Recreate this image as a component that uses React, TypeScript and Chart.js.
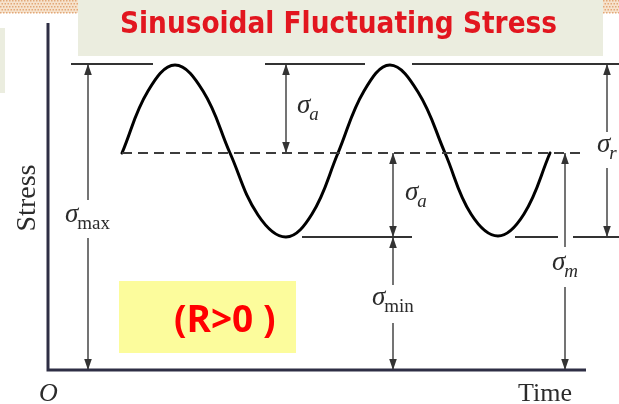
import React, { useEffect, useRef } from 'react';
import { Chart, registerables } from 'chart.js';
Chart.register(...registerables);

// Stress levels (data units)
const S_MAX = 3.06;
const S_MEAN = 2.17;
const S_MIN = 1.33;

// Sinusoidal stress history
const SINE_TIME = [0.74, 1.0, 1.27, 1.55, 1.82, 2.1, 2.38, 2.64, 2.9, 3.16, 3.42, 3.7, 3.97, 4.23, 4.5, 4.76, 5.02];
const SINE_STRESS = [2.17, 2.79, 3.05, 2.79, 2.17, 1.55, 1.33, 1.56, 2.17, 2.79, 3.05, 2.78, 2.17, 1.56, 1.34, 1.56, 2.17];

// Axes extents
const AXIS_TOP = 3.47;
const AXIS_END = 5.38;

// Reference lines (time extents of each segment)
const TOP_LINE_SEGMENTS = [[0.23, 1.05], [2.17, 3.17], [3.64, 5.71]];
const BOTTOM_LINE_SEGMENTS = [[2.54, 3.64], [4.67, 5.1], [5.25, 5.71]];
const MEAN_LINE = [0.74, 5.32];

// Dimension arrows
const ARROW_TIME = [0.4, 2.38, 3.45, 3.45, 5.17, 5.59];
const ARROW_FROM = [S_MAX, S_MAX, S_MEAN, S_MIN, S_MEAN, S_MAX];
const ARROW_TO = [0, S_MEAN, S_MIN, 0, 0, S_MIN];
const ARROW_GAP_HI = [1.7, null, null, 0.85, 1.23, 2.38];
const ARROW_GAP_LO = [1.32, null, null, 0.47, 0.83, 2.02];

// Labels (σ with subscript)
const LABEL_SUB = ['max', 'a', 'a', 'min', 'm', 'r'];
const LABEL_SUB_ITALIC = [false, true, true, false, true, true];
const LABEL_TIME = [0.17, 2.49, 3.57, 3.24, 5.04, 5.49];
const LABEL_STRESS = [1.48, 2.57, 1.7, 0.65, 1.0, 2.18];

const TITLE = 'Sinusoidal Fluctuating Stress';
const NOTE = '(R>0 )';
const Y_TITLE = 'Stress';
const X_TITLE = 'Time';
const ORIGIN = 'O';

function segDatasets(segments: number[][], y: number, style: any) {
  return segments.map(([a, b]) => ({
    data: [{ x: a, y }, { x: b, y }],
    ...style,
  }));
}

function vSeg(t: number, a: number, b: number, style: any) {
  return { data: [{ x: t, y: a }, { x: t, y: b }], ...style };
}

const annotPlugin = {
  id: 'annot',
  beforeDraw(chart: any) {
    const ctx = chart.ctx;
    ctx.save();
    ctx.fillStyle = '#ffffff';
    ctx.fillRect(0, 0, chart.width, chart.height);
    // checkered strips
    const checker = (x0: number, x1: number) => {
      ctx.fillStyle = '#f6e2cc';
      ctx.fillRect(x0, 0, x1 - x0, 13);
      ctx.fillStyle = '#e2a878';
      for (let y = 0; y < 13; y += 3) {
        for (let x = x0 + ((y / 3) % 2) * 1.5; x < x1; x += 3) {
          ctx.fillRect(x, y, 1.5, 1.5);
        }
      }
    };
    checker(0, 78);
    checker(603, 619);
    // title box
    ctx.fillStyle = '#ebeddf';
    ctx.fillRect(78, 0, 525, 56);
    // left light box
    ctx.fillRect(0, 28, 5, 65);
    // yellow note box
    ctx.fillStyle = '#fcfc9c';
    ctx.fillRect(119, 281, 177, 72);
    ctx.restore();
  },
  afterDatasetsDraw(chart: any) {
    const ctx = chart.ctx;
    const xs = chart.scales.x;
    const ys = chart.scales.y;
    ctx.save();
    // arrow heads
    ctx.fillStyle = '#333333';
    const head = (x: number, y: number, dir: number) => {
      const base = y - dir * 11;
      ctx.beginPath();
      ctx.moveTo(x, y);
      ctx.lineTo(x - 3.8, base);
      ctx.lineTo(x + 3.8, base);
      ctx.closePath();
      ctx.fill();
    };
    ARROW_TIME.forEach((t, i) => {
      const px = xs.getPixelForValue(t);
      head(px, ys.getPixelForValue(ARROW_FROM[i]), -1);
      head(px, ys.getPixelForValue(ARROW_TO[i]), 1);
    });
    // sigma labels
    ctx.fillStyle = '#2b2b2b';
    ctx.textBaseline = 'alphabetic';
    ctx.textAlign = 'left';
    LABEL_SUB.forEach((sub, i) => {
      const px = xs.getPixelForValue(LABEL_TIME[i]);
      const py = ys.getPixelForValue(LABEL_STRESS[i]);
      ctx.font = 'italic 27px "Liberation Serif"';
      ctx.fillText('σ', px, py);
      const w = ctx.measureText('σ').width;
      ctx.font = (LABEL_SUB_ITALIC[i] ? 'italic ' : '') + '19px "Liberation Serif"';
      ctx.fillText(sub, px + w - 1, py + 7);
    });
    // axis titles
    ctx.font = '28px "Liberation Serif"';
    ctx.save();
    ctx.translate(28, 198);
    ctx.rotate(-Math.PI / 2);
    ctx.textAlign = 'center';
    ctx.textBaseline = 'middle';
    ctx.fillText(Y_TITLE, 0, 0);
    ctx.restore();
    ctx.font = '26px "Liberation Serif"';
    ctx.fillText(X_TITLE, 518, 401);
    ctx.font = 'italic 26px "Liberation Serif"';
    ctx.fillText(ORIGIN, 39, 401);
    // title
    ctx.fillStyle = '#e2161f';
    ctx.font = 'bold 30px "DejaVu Sans Condensed"';
    const tw = ctx.measureText(TITLE).width;
    const size = (30 * 437) / tw;
    ctx.font = `bold ${size.toFixed(2)}px "DejaVu Sans Condensed"`;
    ctx.fillText(TITLE, 120, 33);
    // note
    ctx.fillStyle = '#ff0000';
    ctx.font = 'bold 37px "Open Sans"';
    ctx.fillText(NOTE, 174, 332);
    ctx.restore();
  },
};

export default function App() {
  const ref = useRef<HTMLCanvasElement>(null);
  useEffect(() => {
    if (!ref.current) return;
    const refStyle = { borderColor: '#333333', borderWidth: 2, pointRadius: 0, showLine: true };
    const arrowStyle = { borderColor: '#3a3a3a', borderWidth: 1.4, pointRadius: 0, showLine: true };
    const arrowSets: any[] = [];
    ARROW_TIME.forEach((t, i) => {
      const hi = ARROW_GAP_HI[i];
      const lo = ARROW_GAP_LO[i];
      if (hi === null || lo === null) {
        arrowSets.push(vSeg(t, ARROW_FROM[i], ARROW_TO[i], arrowStyle));
      } else {
        arrowSets.push(vSeg(t, ARROW_FROM[i], hi, arrowStyle));
        arrowSets.push(vSeg(t, lo, ARROW_TO[i], arrowStyle));
      }
    });
    const chart = new Chart(ref.current, {
      type: 'scatter',
      data: {
        datasets: [
          {
            data: [{ x: 0, y: AXIS_TOP }, { x: 0, y: 0 }, { x: AXIS_END, y: 0 }],
            borderColor: '#2e2e44',
            borderWidth: 3,
            pointRadius: 0,
            showLine: true,
            borderJoinStyle: 'miter',
          } as any,
          ...segDatasets(TOP_LINE_SEGMENTS, S_MAX, refStyle),
          ...segDatasets(BOTTOM_LINE_SEGMENTS, S_MIN, refStyle),
          {
            data: [{ x: MEAN_LINE[0], y: S_MEAN }, { x: MEAN_LINE[1], y: S_MEAN }],
            borderColor: '#3c3c3c',
            borderWidth: 2,
            borderDash: [10, 6],
            pointRadius: 0,
            showLine: true,
          } as any,
          ...arrowSets,
          {
            data: SINE_TIME.map((t, i) => ({ x: t, y: SINE_STRESS[i] })),
            borderColor: '#000000',
            borderWidth: 3,
            pointRadius: 0,
            showLine: true,
            tension: 0.4,
            borderCapStyle: 'round',
          } as any,
        ],
      },
      options: {
        animation: false,
        responsive: false,
        devicePixelRatio: 1,
        clip: false as any,
        layout: { padding: 0 },
        plugins: { legend: { display: false }, tooltip: { enabled: false }, title: { display: false } },
        scales: {
          x: { type: 'linear', min: -0.48, max: 5.71, display: false },
          y: { type: 'linear', min: -0.34, max: 3.7, display: false },
        },
      },
      plugins: [annotPlugin],
    });
    return () => chart.destroy();
  }, []);
  return (
    <div style={{ position: 'absolute', left: 0, top: 0, width: 619, height: 404 }}>
      <canvas ref={ref} width={619} height={404} style={{ width: 619, height: 404, display: 'block' }} />
    </div>
  );
}
